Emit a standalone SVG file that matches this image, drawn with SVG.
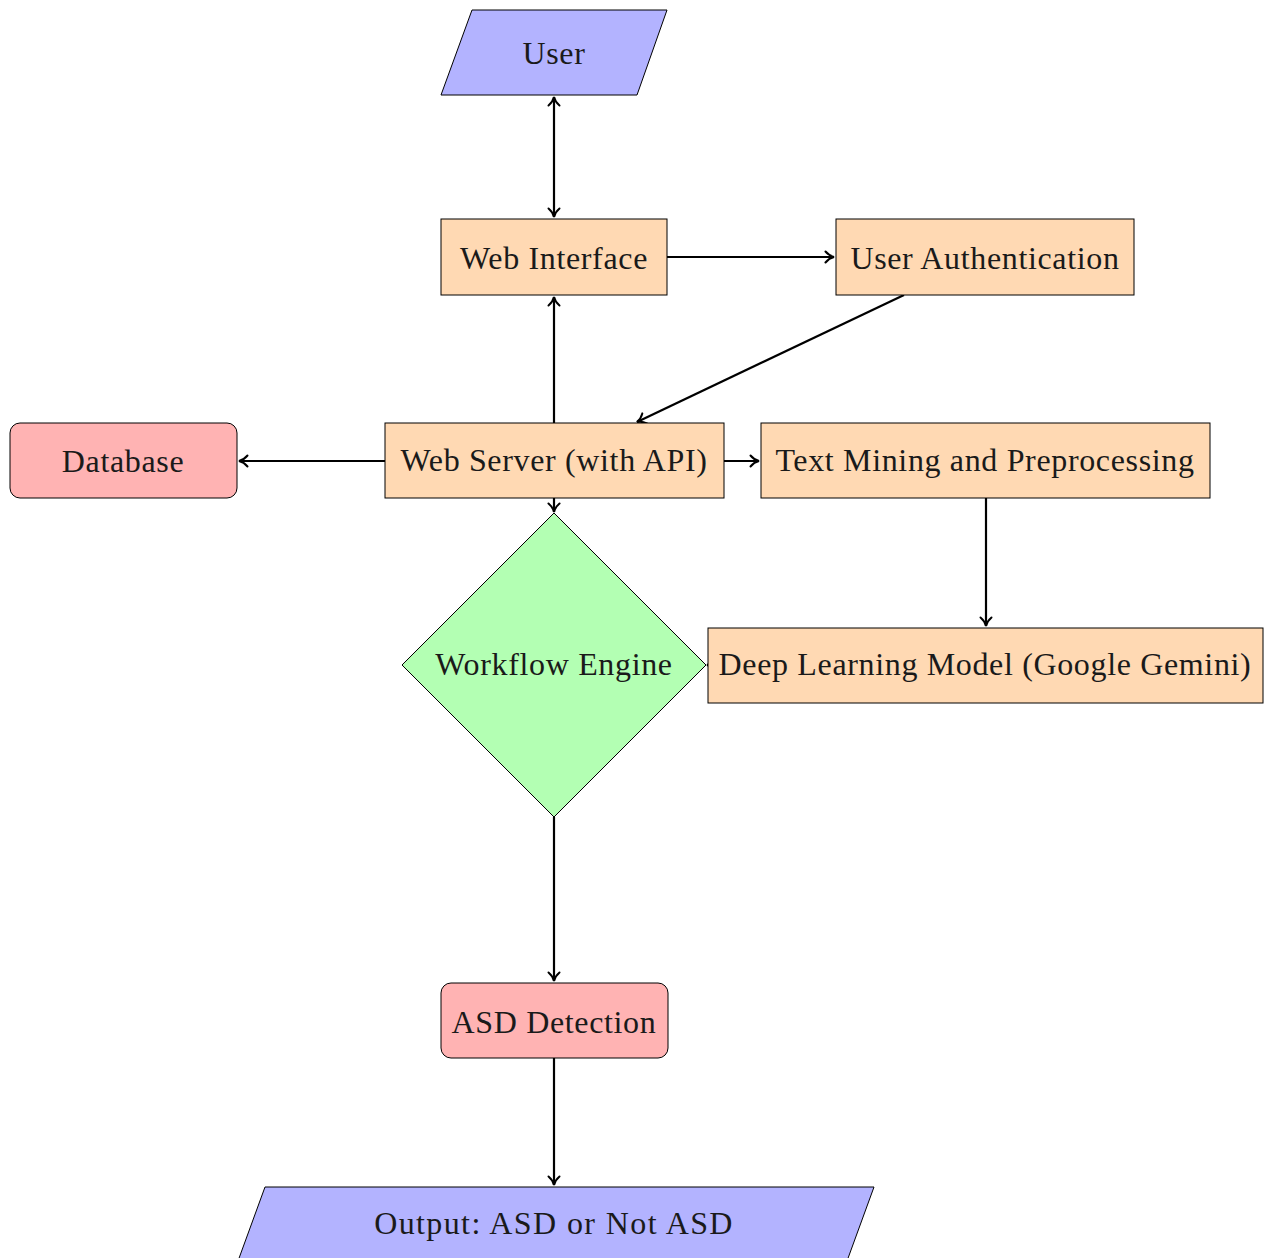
<svg xmlns="http://www.w3.org/2000/svg" width="1272" height="1258" viewBox="0 0 1272 1258">
<style>
.n{stroke:#000;stroke-width:1}
.io{fill:#b3b3ff}
.proc{fill:#ffd9b3}
.red{fill:#ffb3b3}
.dec{fill:#b3ffb3}
text{font-family:"Liberation Serif","Times New Roman",serif;font-size:32px;letter-spacing:0.65px;fill:#1a1a1a;text-anchor:middle;dominant-baseline:central}
.c{stroke:#000;stroke-width:2.2;fill:none}
</style>
<defs>
<marker id="ah" markerUnits="userSpaceOnUse" markerWidth="16" markerHeight="16" viewBox="-12 -8 14 16" refX="0" refY="0" orient="auto-start-reverse">
<path d="M-8.5,-5.5 C-6,-2.5 -2.5,-0.6 0,0 C-2.5,0.6 -6,2.5 -8.5,5.5" fill="none" stroke="#000" stroke-width="2" stroke-linecap="round"/>
</marker>
</defs>
<g id="connectors">
<line class="c" x1="554" y1="97" x2="554" y2="217" marker-start="url(#ah)" marker-end="url(#ah)"/>
<line class="c" x1="667" y1="257" x2="834" y2="257" marker-end="url(#ah)"/>
<line class="c" x1="904" y1="295" x2="637" y2="422" marker-end="url(#ah)"/>
<line class="c" x1="554" y1="423" x2="554" y2="297" marker-end="url(#ah)"/>
<line class="c" x1="385" y1="461" x2="239" y2="461" marker-end="url(#ah)"/>
<line class="c" x1="724" y1="461" x2="759" y2="461" marker-end="url(#ah)"/>
<line class="c" x1="554" y1="498" x2="554" y2="512" marker-end="url(#ah)"/>
<line class="c" x1="986" y1="498" x2="986" y2="626" marker-end="url(#ah)"/>
<line class="c" x1="716" y1="665" x2="707" y2="665" marker-end="url(#ah)"/>
<line class="c" x1="554" y1="817" x2="554" y2="981" marker-end="url(#ah)"/>
<line class="c" x1="554" y1="1058" x2="554" y2="1185" marker-end="url(#ah)"/>
</g>
<g id="user">
<polygon class="n io" points="472,10 667,10 637,95 441,95"/>
<text x="554" y="53">User</text>
</g>
<g id="web-interface">
<rect class="n proc" x="441" y="219" width="226" height="76"/>
<text x="554" y="258">Web Interface</text>
</g>
<g id="user-auth">
<rect class="n proc" x="836" y="219" width="298" height="76"/>
<text x="985" y="258">User Authentication</text>
</g>
<g id="database">
<rect class="n red" x="10" y="423" width="227" height="75" rx="10"/>
<text x="123" y="461">Database</text>
</g>
<g id="web-server">
<rect class="n proc" x="385" y="423" width="339" height="75"/>
<text x="554" y="460">Web Server (with API)</text>
</g>
<g id="text-mining">
<rect class="n proc" x="761" y="423" width="449" height="75"/>
<text x="985" y="460">Text Mining and Preprocessing</text>
</g>
<g id="workflow-engine">
<polygon class="n dec" points="554,513 706,665 554,817 402,665"/>
<text x="554" y="664">Workflow Engine</text>
</g>
<g id="deep-learning">
<rect class="n proc" x="708" y="628" width="555" height="75"/>
<text x="985" y="664">Deep Learning Model (Google Gemini)</text>
</g>
<g id="asd-detection">
<rect class="n red" x="441" y="983" width="227" height="75" rx="10"/>
<text x="554" y="1022">ASD Detection</text>
</g>
<g id="output">
<polygon class="n io" points="265,1187 874,1187 843,1272 234,1272"/>
<text x="554" y="1223" style="letter-spacing:1.4px">Output: ASD or Not ASD</text>
</g>
</svg>
